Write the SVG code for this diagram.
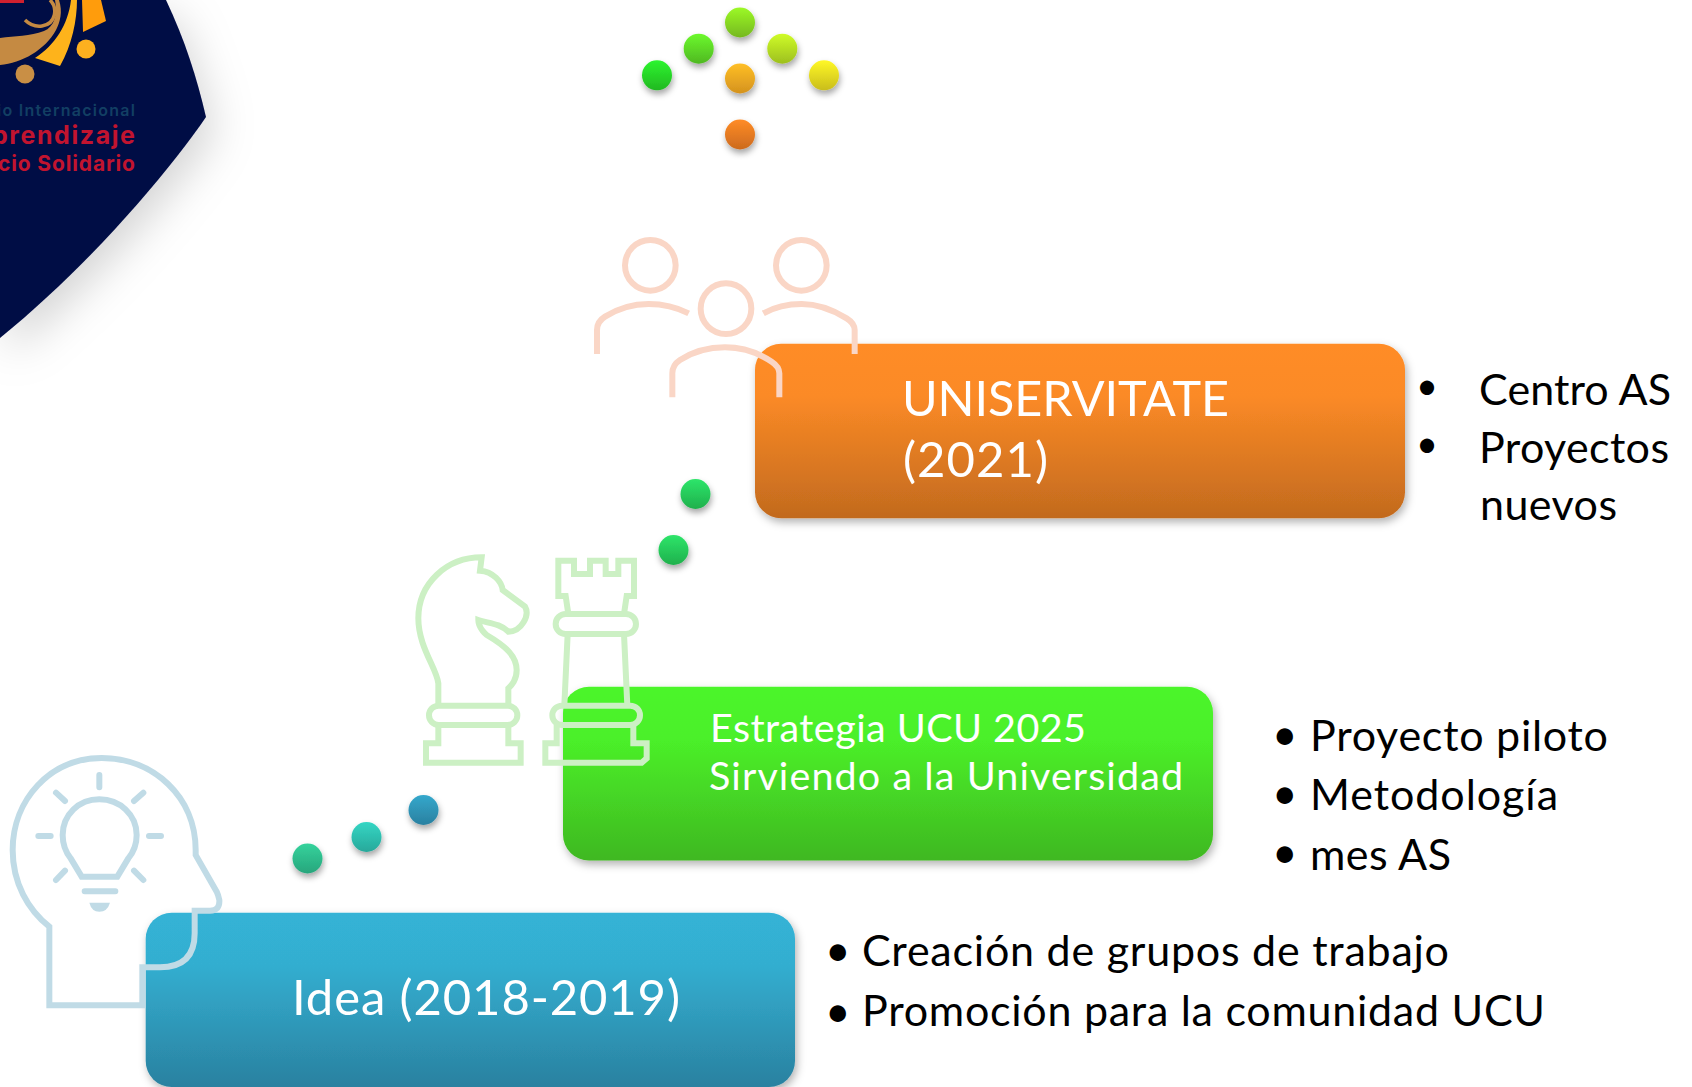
<svg xmlns="http://www.w3.org/2000/svg" width="1692" height="1087" viewBox="0 0 1692 1087">
<style>
text{font-family:"Lato","Open Sans",sans-serif}
.w{fill:#fff}
.k{fill:#000}
.ic{fill:none;stroke-width:18;stroke-linejoin:miter}
.lg{font-family:"Inter","Open Sans",sans-serif}
</style>
<defs>
<filter id="sh" x="-20%" y="-20%" width="140%" height="150%"><feDropShadow dx="2" dy="4" stdDeviation="4" flood-color="#000" flood-opacity=".3"/></filter>
<filter id="ds" x="-50%" y="-50%" width="200%" height="220%"><feDropShadow dx="1" dy="4" stdDeviation="3" flood-color="#000" flood-opacity=".35"/></filter>
<filter id="ls" x="-50%" y="-50%" width="250%" height="250%"><feDropShadow dx="8" dy="16" stdDeviation="22" flood-color="#000" flood-opacity=".17"/></filter>
<linearGradient id="gb" x1="0" y1="0" x2="0" y2="1"><stop offset="0" stop-color="#34b3d6"/><stop offset=".3" stop-color="#33aed0"/><stop offset="1" stop-color="#2a81a0"/></linearGradient>
<linearGradient id="gg" x1="0" y1="0" x2="0" y2="1"><stop offset="0" stop-color="#4cf52a"/><stop offset=".3" stop-color="#4bf029"/><stop offset="1" stop-color="#3fb821"/></linearGradient>
<linearGradient id="go" x1="0" y1="0" x2="0" y2="1"><stop offset="0" stop-color="#ff8c26"/><stop offset=".3" stop-color="#fb8a26"/><stop offset="1" stop-color="#c26a1e"/></linearGradient>
<linearGradient id="d1" x1="0" y1="0" x2="0" y2="1"><stop offset="0" stop-color="#9cf926"/><stop offset="1" stop-color="#75b81f"/></linearGradient>
<linearGradient id="d2" x1="0" y1="0" x2="0" y2="1"><stop offset="0" stop-color="#6cf92c"/><stop offset="1" stop-color="#4fb822"/></linearGradient>
<linearGradient id="d3" x1="0" y1="0" x2="0" y2="1"><stop offset="0" stop-color="#cffc28"/><stop offset="1" stop-color="#9dbf1e"/></linearGradient>
<linearGradient id="d4" x1="0" y1="0" x2="0" y2="1"><stop offset="0" stop-color="#2df52e"/><stop offset="1" stop-color="#22b822"/></linearGradient>
<linearGradient id="d5" x1="0" y1="0" x2="0" y2="1"><stop offset="0" stop-color="#fff826"/><stop offset="1" stop-color="#c9bd1c"/></linearGradient>
<linearGradient id="d6" x1="0" y1="0" x2="0" y2="1"><stop offset="0" stop-color="#ffbf26"/><stop offset="1" stop-color="#d4921e"/></linearGradient>
<linearGradient id="d7" x1="0" y1="0" x2="0" y2="1"><stop offset="0" stop-color="#ff8c26"/><stop offset="1" stop-color="#cc6a1e"/></linearGradient>
<linearGradient id="d8" x1="0" y1="0" x2="0" y2="1"><stop offset="0" stop-color="#2ee56a"/><stop offset="1" stop-color="#1fb04c"/></linearGradient>
<linearGradient id="d9" x1="0" y1="0" x2="0" y2="1"><stop offset="0" stop-color="#34d39c"/><stop offset="1" stop-color="#28a57c"/></linearGradient>
<linearGradient id="d10" x1="0" y1="0" x2="0" y2="1"><stop offset="0" stop-color="#34d6c4"/><stop offset="1" stop-color="#28a89a"/></linearGradient>
<linearGradient id="d11" x1="0" y1="0" x2="0" y2="1"><stop offset="0" stop-color="#34a8cc"/><stop offset="1" stop-color="#2a80a0"/></linearGradient>
</defs>

<g id="logo">
<path d="M0,0H166C185,40 197,78 206,117C170,170 90,265 0,338Z" fill="#010b45" filter="url(#ls)"/>
<rect x="0" y="0" width="24" height="3" fill="#d0202f"/>
<path d="M82,0H101L106,21L83,32Z" fill="#ff9c0c"/>
<path d="M71,0H77C77,20 72,45 60,66L35,58C55,45 68,25 71,0Z" fill="#feb31b"/>
<path d="M50,0C58,8 56,24 42,26C35,27 29,24 25,20" fill="none" stroke="#c58a42" stroke-width="3.5"/>
<path d="M0,38C15,36 30,36 44,31C54,27 58,15 55,0H59C63,12 60,22 56,30C45,50 22,63 0,65Z" fill="#c58a42"/>
<circle cx="86" cy="49" r="9.5" fill="#fdb01f"/>
<circle cx="25" cy="74" r="9.5" fill="#c98f45"/>
<text class="lg" x="-3" y="116" textLength="138" font-size="16" font-weight="600" fill="#123f63">io Internacional</text>
<text class="lg" x="-8" y="144" textLength="143" font-size="25" font-weight="700" fill="#c2142f">prendizaje</text>
<text class="lg" x="-2" y="171" textLength="137" font-size="21" font-weight="700" fill="#c2142f">cio Solidario</text>
</g>

<g id="connectors">
<g filter="url(#ds)">
<circle cx="740" cy="22.5" r="15" fill="url(#d1)"/>
<circle cx="698.7" cy="48.7" r="15" fill="url(#d2)"/>
<circle cx="782.3" cy="48.7" r="15" fill="url(#d3)"/>
<circle cx="657" cy="75.3" r="15" fill="url(#d4)"/>
<circle cx="824" cy="75.3" r="15" fill="url(#d5)"/>
<circle cx="740" cy="78.5" r="15" fill="url(#d6)"/>
<circle cx="740" cy="134.5" r="15" fill="url(#d7)"/>
<circle cx="695.5" cy="494" r="15" fill="url(#d8)"/>
<circle cx="673.5" cy="550" r="15" fill="url(#d8)"/>
<circle cx="423.5" cy="810" r="15" fill="url(#d11)"/>
<circle cx="366.5" cy="837" r="15" fill="url(#d10)"/>
<circle cx="307.5" cy="858.5" r="15" fill="url(#d9)"/>
</g>
</g>

<g id="node-idea">
<rect x="145.7" y="912.7" width="649.3" height="174.3" rx="26" fill="url(#gb)" filter="url(#sh)"/>
<text class="w" x="292" y="1015" font-size="49" textLength="388">Idea (2018-2019)</text>
<g transform="translate(0 740) scale(.33333)" stroke="#c0dbe6" class="ic">
<path d="M148,796H427V682H480Q584,682 584,580V512H630Q660,512 658,480Q655,465 650,455L587,345V330C587,170 460,54 305,54C150,54 38,180 38,330C38,430 85,510 148,560Z"/>
<path d="M245,410H352L385,355Q410,325 410,285C410,225 360,178 298,178C236,178 188,225 188,285Q188,325 212,355Z"/>
<path stroke-linecap="round" d="M298,105V142M168,158L195,183M430,158L402,183M115,288H152M447,288H483M195,392L168,420M402,392L430,420M254,454H346"/>
<path d="M268,488H330Q322,515 298,515Q275,515 268,488Z" fill="#c0dbe6" stroke="none"/>
</g>
<g class="k" font-size="43">
<text x="825" y="966" font-size="44">•</text><text x="862" y="966" textLength="587">Creación de grupos de trabajo</text>
<text x="825" y="1027" font-size="44">•</text><text x="862" y="1026" textLength="683">Promoción para la comunidad UCU</text>
</g>
</g>

<g id="node-estrategia">
<rect x="563" y="686.7" width="650" height="173.8" rx="26" fill="url(#gg)" filter="url(#sh)"/>
<text class="w" x="710" y="742" font-size="39.5" textLength="376">Estrategia UCU 2025</text>
<text class="w" x="709" y="790" font-size="39.5" textLength="474">Sirviendo a la Universidad</text>
<g transform="translate(400 540) scale(.33333)" stroke="#ccf0c4" class="ic">
<path d="M115,497V430C110,385 55,320 55,235C55,130 140,52 245,52L240,92C280,95 305,125 308,150L375,200C390,225 365,275 325,275C300,250 265,250 235,240C235,265 260,285 260,285C320,320 350,350 350,390C350,420 335,435 325,445V497"/>
<rect x="87" y="497" width="265" height="58" rx="29"/>
<path d="M115,555V610H78V668H362V610H325V555"/>
<path d="M505,222L497,168H475V62H522V102H570V62H617V102H655V62H702V168H680L672,222"/>
<rect x="467" y="222" width="241" height="60" rx="30"/>
<path d="M503,282L493,497M672,282L682,497"/>
<rect x="457" y="497" width="263" height="58" rx="29"/>
<path d="M470,555V610H436V668H725L740,655V610H700V555"/>
</g>
<g class="k" font-size="43">
<text x="1272" y="750" font-size="44">•</text><text x="1310" y="751" textLength="298">Proyecto piloto</text>
<text x="1272" y="809" font-size="44">•</text><text x="1310" y="810" textLength="248">Metodología</text>
<text x="1272" y="868" font-size="44">•</text><text x="1310" y="870" textLength="141">mes AS</text>
</g>
</g>

<g id="node-uniservitate">
<rect x="755" y="343.8" width="650" height="174.4" rx="26" fill="url(#go)" filter="url(#sh)"/>
<text class="w" x="902" y="416" font-size="48.5" textLength="327">UNISERVITATE</text>
<text class="w" x="903" y="477" font-size="49" textLength="145">(2021)</text>
<g transform="translate(570 0) scale(.33333)" stroke="#fad6c6" class="ic">
<circle cx="241" cy="796" r="76"/>
<circle cx="694" cy="796" r="76"/>
<circle cx="468" cy="926" r="76"/>
<path d="M81,1062V990Q81,965 105,950Q165,912 236,912Q300,912 356,940"/>
<path d="M580,940Q630,912 695,912Q760,912 830,955Q854,970 854,990V1062"/>
<path d="M307,1192V1120Q307,1095 330,1080Q390,1042 465,1042Q540,1042 605,1085Q628,1100 628,1120V1192"/>
</g>
<g class="k" font-size="43">
<text x="1416" y="399" font-size="38">•</text><text x="1479" y="405" textLength="192">Centro AS</text>
<text x="1479" y="463" textLength="190">Proyectos</text><text x="1416" y="457" font-size="38">•</text>
<text x="1480" y="520" textLength="137">nuevos</text>
</g>
</g>
</svg>
